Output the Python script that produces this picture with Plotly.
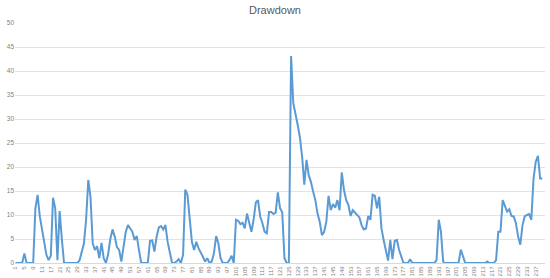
import plotly.graph_objects as go

# Period index (categories) and drawdown values
periods = list(range(1, 241))

drawdown = [
    0, 0, 0, 0, 2, 0, 0, 0, 0, 11.4,                      # 1-10
    14.2, 9.7, 6.9, 4.1, 1.7, 0.6, 1.5, 13.6, 11.4, 0.6,  # 11-20
    10.8, 5, 0, 0, 0, 0, 0, 0, 0, 0.5,                    # 21-30
    2, 4, 9, 17.3, 13.8, 4.1, 2.7, 3.5, 1, 4.2,           # 31-40
    1, 0, 1.8, 5, 7, 5.5, 3.3, 2.7, 0.3, 3.5,             # 41-50
    6.5, 7.9, 7.2, 6.5, 4.8, 5.6, 2.7, 0, 0, 0,           # 51-60
    0, 4.6, 4.7, 2.4, 5.5, 7.4, 7.7, 7, 7.9, 4.4,         # 61-70
    2.4, 0, 0, 0.3, 0.8, 0, 1.7, 15.3, 14.2, 9,           # 71-80
    4.4, 2.7, 4.4, 3.1, 2, 1.3, 0.3, 1, 0, 0.3,           # 81-90
    2, 5.6, 4.1, 1, 0, 0, 0, 0.6, 1.5, 0,                 # 91-100
    9, 8.8, 8.1, 8.4, 7.2, 10.3, 8.6, 6.5, 9, 12.6,       # 101-110
    13.1, 9.7, 8.3, 6.5, 6.2, 10.6, 10.6, 10.2, 10.5, 14.7,  # 111-120
    11.4, 10.5, 1, 0, 0, 43.1, 33.3, 31.2, 28.8, 26.2,    # 121-130
    22.2, 16.3, 21.5, 18.3, 16.9, 14.9, 13.1, 10.3, 8.6, 5.8,  # 131-140
    6.5, 8.6, 14, 11, 12.3, 11.5, 13.1, 11, 18.9, 15.2,   # 141-150
    13.1, 12.1, 9.8, 11, 10.5, 10.2, 9.5, 7.9, 7, 7.2,    # 151-160
    9.8, 9, 14.2, 14, 11.4, 13.8, 7.2, 4.8, 2.7, 0.5,     # 161-170
    4.8, 0.8, 4.6, 4.8, 2.7, 1.3, 0, 0, 0, 0.8,           # 171-180
    0, 0, 0, 0, 0, 0, 0, 0, 0, 0,                         # 181-190
    0, 0.6, 9, 6.5, 0.3, 0, 0, 0, 0, 0,                   # 191-200
    0, 0, 2.8, 1.3, 0, 0, 0, 0, 0.1, 0,                   # 201-210
    0, 0, 0, 0, 0.3, 0, 0, 0, 0.6, 6.5,                   # 211-220
    6.5, 13.1, 11.9, 10.7, 11.2, 9.8, 9.7, 8.3, 5.5, 3.8,  # 221-230
    7.9, 9.7, 10, 10.2, 9, 17.6, 21.1, 22.3, 17.6, 17.6,  # 231-240
]

x_tick_labels = list(range(1, 241, 4))
y_ticks = [0, 5, 10, 15, 20, 25, 30, 35, 40, 45, 50]

fig = go.Figure()
fig.add_trace(go.Scatter(
    x=periods,
    y=drawdown,
    mode="lines",
    line=dict(color="#5B9BD5", width=2),
    showlegend=False,
    hoverinfo="x+y",
))

fig.update_layout(
    template="none",
    width=550,
    height=278,
    margin=dict(l=15, r=5, t=23, b=15, autoexpand=False),
    paper_bgcolor="white",
    plot_bgcolor="white",
    title=dict(
        text="Drawdown",
        x=0.5, xref="container", xanchor="center",
        y=1 - 10 / 278, yref="container", yanchor="middle",
        font=dict(family="Liberation Sans, Arial, sans-serif", size=11, color="#595959"),
    ),
    font=dict(family="Liberation Sans, Arial, sans-serif", color="#7f7f7f"),
)

fig.update_xaxes(
    range=[0.75, 241.2],
    tickmode="array",
    tickvals=x_tick_labels,
    ticktext=[str(v) for v in x_tick_labels],
    tickangle=-90,
    tickfont=dict(size=6, color="#7f7f7f"),
    showgrid=False,
    zeroline=False,
    showline=True,
    linecolor="#D9D9D9",
    linewidth=1,
    ticks="",
    automargin=False,
)

fig.update_yaxes(
    range=[0, 50],
    tickmode="array",
    tickvals=y_ticks,
    tickfont=dict(size=6.5, color="#7f7f7f"),
    showgrid=True,
    gridcolor="#E3E3E3",
    gridwidth=1,
    zeroline=False,
    showline=False,
    ticks="",
    automargin=False,
)

fig.write_html("out.html")
